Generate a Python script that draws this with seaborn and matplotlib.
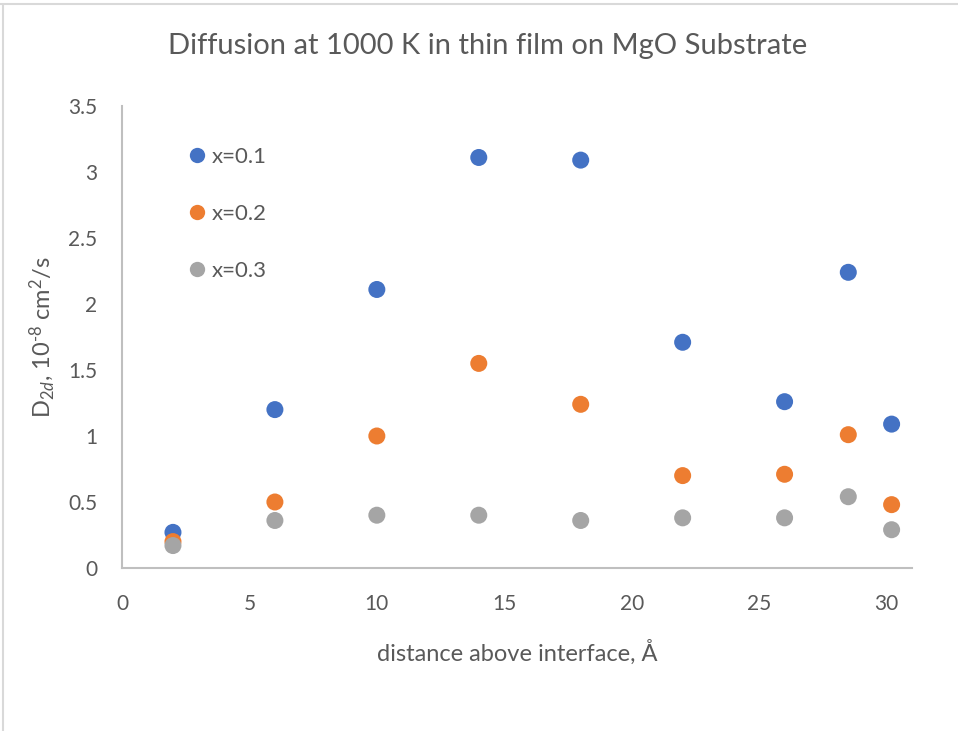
import matplotlib
matplotlib.use("Agg")
import matplotlib.pyplot as plt
import seaborn as sns
import pandas as pd
from matplotlib.lines import Line2D

distance = [2, 6, 10, 14, 18, 22, 26, 28.5, 30.2]
d_x01 = [0.27, 1.20, 2.11, 3.11, 3.09, 1.71, 1.26, 2.24, 1.09]
d_x02 = [0.20, 0.50, 1.00, 1.55, 1.24, 0.70, 0.71, 1.01, 0.48]
d_x03 = [0.17, 0.36, 0.40, 0.40, 0.36, 0.38, 0.38, 0.54, 0.29]
series_labels = ["x=0.1", "x=0.2", "x=0.3"]
colors = ["#4472C4", "#ED7D31", "#A5A5A5"]

df = pd.concat([
    pd.DataFrame({"distance": distance, "D": vals, "series": lab})
    for vals, lab in zip([d_x01, d_x02, d_x03], series_labels)
])

sns.set_theme(style="white")
plt.rcParams["font.family"] = ["Lato", "DejaVu Sans"]
plt.rcParams["mathtext.fontset"] = "custom"
plt.rcParams["mathtext.rm"] = "Lato"
plt.rcParams["mathtext.it"] = "Lato:italic"
text_color = "#595959"

fig = plt.figure(figsize=(9.58, 7.31), dpi=100)
ax = fig.add_axes([122/958, (731-568)/731, (912-122)/958, (568-106)/731])

sns.scatterplot(data=df, x="distance", y="D", hue="series", palette=colors,
                s=150, linewidth=0, ax=ax, legend=True)

ax.set_xlim(0, 31)
ax.set_ylim(0, 3.5)
ax.set_xticks([0, 5, 10, 15, 20, 25, 30])
ax.set_yticks([0, 0.5, 1, 1.5, 2, 2.5, 3, 3.5])
ax.set_yticklabels(["0", "0.5", "1", "1.5", "2", "2.5", "3", "3.5"])
ax.tick_params(axis="both", colors=text_color, labelsize=15, length=0)
ax.tick_params(axis="x", pad=19)
ax.tick_params(axis="y", pad=18)
for s in ["top", "right"]:
    ax.spines[s].set_visible(False)
for s in ["left", "bottom"]:
    ax.spines[s].set_color("#BFBFBF")
    ax.spines[s].set_linewidth(1.5)

ax.set_xlabel("distance above interface, Å", color=text_color, fontsize=17, labelpad=18)
ax.set_ylabel("D$_{\\mathrm{2}\\mathit{d}}$, 10$^{\\mathrm{\u20108}}$ cm$^{\\mathrm{2}}$/s",
              color=text_color, fontsize=17, labelpad=8)
fig.text(488/958, 1 - 46/731, "Diffusion at 1000 K in thin film on MgO Substrate",
         ha="center", va="center", color=text_color, fontsize=21)

leg = ax.legend(loc="upper left", bbox_to_anchor=(0.053, 0.955), frameon=False,
                labelspacing=1.67, handletextpad=0.05, handlelength=1.2,
                fontsize=16, markerscale=0.9, title=None)
for t in leg.get_texts():
    t.set_color(text_color)

fig.add_artist(Line2D([3/958, 3/958], [0, 1 - 5/731], color="#D9D9D9", lw=1.5))
fig.add_artist(Line2D([0, 1], [1 - 4/731, 1 - 4/731], color="#D9D9D9", lw=1.5))

fig.savefig("out.png", dpi=100)
